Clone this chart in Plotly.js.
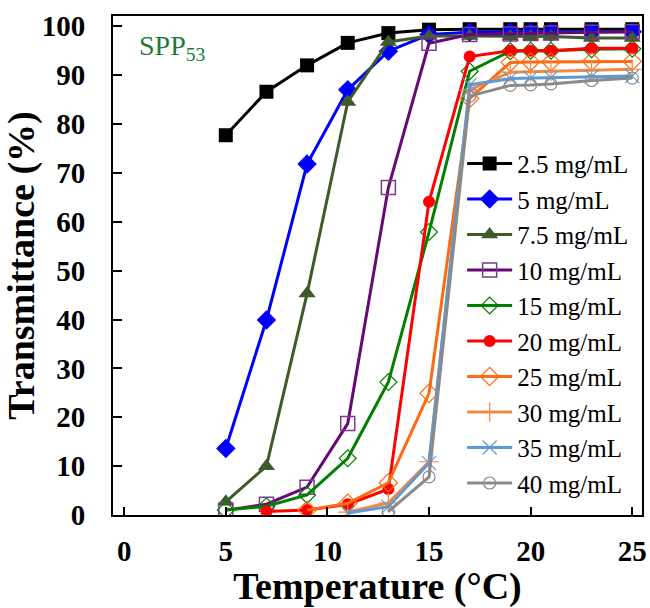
<!DOCTYPE html>
<html>
<head>
<meta charset="utf-8">
<script src="https://cdn.plot.ly/plotly-3.0.1.min.js"></script>
<style>html,body{margin:0;padding:0;background:#fff;}#chart{width:650px;height:608px;}</style>
</head>
<body>
<div id="chart"></div>
<script>
// Temperatures (°C)
var tempsA = [5, 7, 9, 11, 13, 15, 17, 19, 20, 21, 23, 25];
var tempsB = [7, 9, 11, 13, 15, 17, 19, 20, 21, 23, 25];
var tempsC = [9, 11, 13, 15, 17, 19, 20, 21, 23, 25];
var tempsD = [11, 13, 15, 17, 19, 20, 21, 23, 25];
var tempsE = [13, 15, 17, 19, 20, 21, 23, 25];

// Transmittance (%) per concentration
var c2_5 = [77.7, 86.6, 92.0, 96.6, 98.6, 99.3, 99.4, 99.4, 99.4, 99.4, 99.4, 99.4];
var c5   = [13.6, 39.9, 71.8, 87.0, 94.9, 98.3, 98.8, 98.8, 98.8, 98.8, 98.9, 98.9];
var c7_5 = [2.7, 10.0, 45.3, 84.5, 96.8, 98.0, 98.0, 97.9, 97.9, 97.9, 97.6, 97.6];
var c10  = [1.0, 2.2, 5.7, 18.7, 67.0, 96.5, 98.3, 98.4, 98.5, 98.6, 98.8, 98.9];
var c15  = [1.0, 1.8, 4.1, 11.6, 27.2, 57.9, 90.8, 94.9, 95.0, 95.0, 95.3, 95.4];
var c20  = [0.7, 1.0, 2.2, 5.3, 64.1, 93.8, 95.0, 95.0, 95.0, 95.5, 95.5];
var c25  = [1.0, 2.4, 6.6, 24.9, 85.2, 92.6, 92.7, 92.7, 92.8, 92.8];
var c30  = [0.6, 2.5, 10.9, 87.0, 90.6, 90.7, 90.8, 91.0, 91.2];
var c35  = [0.4, 1.7, 10.6, 88.0, 89.3, 89.4, 89.5, 89.7, 89.8];
var c40  = [0.7, 7.8, 85.7, 87.9, 88.0, 88.2, 88.9, 89.4];

var names = ['2.5 mg/mL','5 mg/mL','7.5 mg/mL','10 mg/mL','15 mg/mL','20 mg/mL','25 mg/mL','30 mg/mL','35 mg/mL','40 mg/mL'];
var xTicks = [0, 5, 10, 15, 20, 25];
var yTicks = [0, 10, 20, 30, 40, 50, 60, 70, 80, 90, 100];

function tr(x, y, name, lineColor, sym, size, mColor, mLine, mLineW) {
  return {
    x: x, y: y, name: name, type: 'scatter', mode: 'lines+markers',
    line: {color: lineColor, width: 3},
    marker: {symbol: sym, size: size, color: mColor,
             line: {color: mLine, width: mLineW}}
  };
}

var data = [
  tr(tempsA, c2_5, names[0], '#000000', 'square', 14, '#000000', '#000000', 0),
  tr(tempsA, c5,   names[1], '#0000ff', 'diamond', 15, '#0000ff', '#0000ff', 0),
  tr(tempsA, c7_5, names[2], '#3e5a2a', 'triangle-up', 15, '#3e5a2a', '#3e5a2a', 0),
  tr(tempsA, c10,  names[3], '#650a73', 'square-open', 14, '#7d3a8c', '#7d3a8c', 1.5),
  tr(tempsA, c15,  names[4], '#008000', 'diamond-open', 13, '#008000', '#008000', 1.2),
  tr(tempsB, c20,  names[5], '#ff0000', 'circle', 12, '#ff0000', '#ff0000', 0),
  tr(tempsC, c25,  names[6], '#ff6a10', 'diamond-open', 14, '#ff6a10', '#ff6a10', 1.2),
  tr(tempsD, c30,  names[7], '#ef8a45', 'cross-thin', 14, '#ef8a45', '#ef8a45', 1.2),
  tr(tempsD, c35,  names[8], '#5b9bd5', 'x-thin', 14, '#5b9bd5', '#5b9bd5', 1.2),
  tr(tempsE, c40,  names[9], '#8a8a8a', 'circle-open', 12, '#8a8a8a', '#8a8a8a', 1.2)
];

var serif = 'Liberation Serif, Times New Roman, serif';

var layout = {
  width: 650, height: 608,
  margin: {l: 113, r: 8, t: 16, b: 93},
  paper_bgcolor: '#ffffff', plot_bgcolor: '#ffffff',
  showlegend: true,
  legend: {
    x: 0.66, y: 0.75, xanchor: 'left', yanchor: 'top',
    bgcolor: 'rgba(0,0,0,0)', borderwidth: 0,
    font: {family: serif, size: 25, color: '#000'},
    itemwidth: 45, tracegroupgap: 0
  },
  xaxis: {
    range: [-0.55, 25.48], tickvals: xTicks, ticktext: xTicks.map(String),
    showline: true, mirror: true, linecolor: '#000', linewidth: 2,
    ticks: 'inside', ticklen: 8, tickwidth: 2, tickcolor: '#000',
    showgrid: false, zeroline: false,
    tickfont: {family: serif, size: 29, color: '#000', weight: 'bold'},
    ticklabelstandoff: 9,
    title: {text: 'Temperature (°C)', font: {family: serif, size: 38, color: '#000', weight: 'bold'}, standoff: 10}
  },
  yaxis: {
    range: [0, 102.1], tickvals: yTicks, ticktext: yTicks.map(String),
    showline: true, mirror: true, linecolor: '#000', linewidth: 2,
    ticks: 'inside', ticklen: 9, tickwidth: 2, tickcolor: '#000',
    showgrid: false, zeroline: false,
    tickfont: {family: serif, size: 29, color: '#000', weight: 'bold'},
    ticklabelstandoff: 20,
    title: {text: 'Transmittance (%)', font: {family: serif, size: 38, color: '#000', weight: 'bold'}, standoff: 6}
  },
  annotations: [{
    xref: 'paper', yref: 'paper', x: 0.045, y: 0.975, xanchor: 'left', yanchor: 'top',
    text: 'SPP<sub>53</sub>', showarrow: false,
    font: {family: serif, size: 28, color: '#1e7b34'}
  }]
};

Plotly.newPlot('chart', data, layout, {displayModeBar: false, staticPlot: true});
</script>
</body>
</html>
